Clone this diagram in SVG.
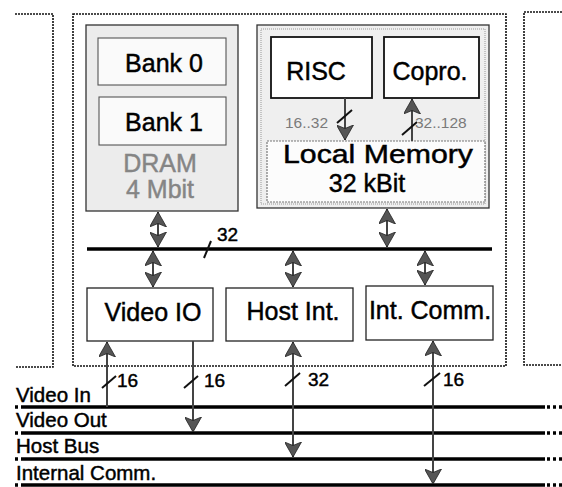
<svg xmlns="http://www.w3.org/2000/svg" width="562" height="487" viewBox="0 0 562 487">
<defs>
<marker id="ah" viewBox="0 0 15 17" refX="15" refY="8.5" markerWidth="15" markerHeight="17" markerUnits="userSpaceOnUse" orient="auto-start-reverse">
<path d="M0,0 L15,8.5 L0,17 L3.5,8.5 Z" fill="#555" stroke="#222" stroke-width="0.8"/>
</marker>
<style>
text{font-family:"Liberation Sans",Arial,Helvetica,sans-serif;fill:#000;stroke:#000;stroke-width:0.45}
.lbl{font-size:25px;text-anchor:middle}
.gray{fill:#858585;stroke:#858585}
.small{font-size:15.5px;fill:#7a7a7a;stroke:none}
.num{font-size:19px}
.bus{font-size:20.5px}
.dot{fill:none;stroke:#111;stroke-width:1.6;stroke-dasharray:2 1}
.box{fill:#fff;stroke:#222;stroke-width:1.3}
.bank{fill:#fafafa;stroke:#555;stroke-width:1.1}
.shaft{stroke:#444;stroke-width:2;fill:none}
.slash{stroke:#111;stroke-width:2}
.line{stroke:#000;stroke-width:3.5}
.ldot{stroke:#000;stroke-width:3.5;stroke-dasharray:3 3}
</style>
</defs>

<g id="frames">
<path class="dot" d="M15,14 H53 V367 H15"/>
<rect class="dot" x="73" y="14" width="433" height="352"/>
<path class="dot" d="M562,12 H524 V365 H562"/>
</g>

<g id="dram">
<rect x="86" y="25" width="152" height="186" fill="#ececec" stroke="#333" stroke-width="1.3"/>
<text class="lbl gray" x="160" y="172">DRAM</text>
<text class="lbl gray" x="160" y="198">4 Mbit</text>
</g>
<g id="bank0">
<rect class="bank" x="98" y="38" width="128" height="47"/>
<text class="lbl" x="164" y="72">Bank 0</text>
</g>
<g id="bank1">
<rect class="bank" x="99" y="97" width="127" height="48"/>
<text class="lbl" x="164" y="131">Bank 1</text>
</g>

<g id="processor">
<rect x="257" y="25" width="232" height="183" fill="#efefef" stroke="#333" stroke-width="1.3"/>
<rect x="261" y="29" width="224" height="175" fill="none" stroke="#999" stroke-width="1" stroke-dasharray="1 1"/>
</g>
<g id="risc">
<rect x="271" y="37" width="101" height="61" fill="#fff" stroke="#111" stroke-width="1.8"/>
<text class="lbl" x="316" y="80">RISC</text>
</g>
<g id="copro">
<rect x="384" y="37" width="95" height="61" fill="#fff" stroke="#111" stroke-width="1.8"/>
<text class="lbl" x="430" y="80">Copro.</text>
</g>
<g id="localmem">
<rect x="267" y="141" width="218" height="61" fill="#fcfcfc" stroke="#777" stroke-width="1.2" stroke-dasharray="2 1"/>
<text class="lbl" x="378" y="163" textLength="190" lengthAdjust="spacingAndGlyphs">Local Memory</text>
<text class="lbl" x="367" y="192">32 kBit</text>
</g>

<g id="videoio">
<rect class="box" x="87" y="288" width="126" height="53"/>
<text class="lbl" x="153" y="321">Video IO</text>
</g>
<g id="hostint">
<rect class="box" x="226" y="288" width="127" height="53"/>
<text class="lbl" x="293" y="320">Host Int.</text>
</g>
<g id="intcomm">
<rect class="box" x="366" y="286" width="127" height="54"/>
<text class="lbl" x="430" y="319">Int. Comm.</text>
</g>

<g id="buses">
<line class="line" x1="87" y1="249" x2="492" y2="249"/>
<line class="slash" x1="204" y1="258" x2="211" y2="241"/>
<text class="num" x="217" y="241">32</text>

<line class="line" x1="23" y1="407" x2="545" y2="407"/>
<line class="ldot" x1="15" y1="407" x2="23" y2="407"/>
<line class="ldot" x1="547" y1="407" x2="562" y2="407"/>
<text class="bus" x="16" y="402">Video In</text>

<line class="line" x1="23" y1="433" x2="545" y2="433"/>
<line class="ldot" x1="15" y1="433" x2="23" y2="433"/>
<line class="ldot" x1="547" y1="433" x2="562" y2="433"/>
<text class="bus" x="16" y="427">Video Out</text>

<line class="line" x1="23" y1="459" x2="545" y2="459"/>
<line class="ldot" x1="15" y1="459" x2="23" y2="459"/>
<line class="ldot" x1="547" y1="459" x2="562" y2="459"/>
<text class="bus" x="16" y="453">Host Bus</text>

<line class="line" x1="23" y1="485" x2="545" y2="485"/>
<line class="ldot" x1="15" y1="485" x2="23" y2="485"/>
<line class="ldot" x1="547" y1="485" x2="562" y2="485"/>
<text class="bus" x="16" y="480">Internal Comm.</text>
</g>

<g id="connectors">
<line class="shaft" x1="345" y1="98" x2="345" y2="140" marker-end="url(#ah)"/>
<line class="slash" x1="337" y1="123" x2="352" y2="110"/>
<text class="small" x="285" y="128">16..32</text>
<line class="shaft" x1="412" y1="141" x2="412" y2="99" marker-end="url(#ah)"/>
<line class="slash" x1="402" y1="135" x2="417" y2="122"/>
<text class="small" x="415" y="128">32..128</text>

<line class="shaft" x1="158" y1="212" x2="158" y2="247" marker-start="url(#ah)" marker-end="url(#ah)"/>
<line class="shaft" x1="387" y1="209" x2="387" y2="247" marker-start="url(#ah)" marker-end="url(#ah)"/>
<line class="shaft" x1="153" y1="251" x2="153" y2="287" marker-start="url(#ah)" marker-end="url(#ah)"/>
<line class="shaft" x1="293" y1="251" x2="293" y2="287" marker-start="url(#ah)" marker-end="url(#ah)"/>
<line class="shaft" x1="425" y1="251" x2="425" y2="285" marker-start="url(#ah)" marker-end="url(#ah)"/>

<line class="shaft" x1="107" y1="407" x2="107" y2="342" marker-end="url(#ah)"/>
<line class="slash" x1="102" y1="388" x2="116" y2="376"/>
<text class="num" x="117" y="387">16</text>

<line class="shaft" x1="193" y1="341" x2="193" y2="432" marker-end="url(#ah)"/>
<line class="slash" x1="184" y1="388" x2="198" y2="376"/>
<text class="num" x="204" y="387">16</text>

<line class="shaft" x1="293" y1="342" x2="293" y2="457" marker-start="url(#ah)" marker-end="url(#ah)"/>
<line class="slash" x1="285" y1="386" x2="300" y2="373"/>
<text class="num" x="308" y="386">32</text>

<line class="shaft" x1="433" y1="341" x2="433" y2="484" marker-start="url(#ah)" marker-end="url(#ah)"/>
<line class="slash" x1="424" y1="386" x2="440" y2="373"/>
<text class="num" x="443" y="386">16</text>
</g>
</svg>
